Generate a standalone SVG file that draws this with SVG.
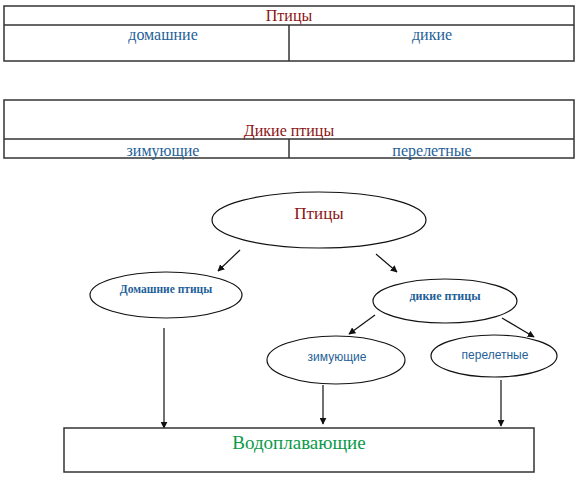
<svg xmlns="http://www.w3.org/2000/svg" width="580" height="477" viewBox="0 0 580 477">
<style>
.tb{fill:#fff;stroke:#333;stroke-width:1.5}
.el{fill:#fff;stroke:#111;stroke-width:1.2}
.red{fill:#8B1414}
.blue{fill:#1F5F99}
.green{fill:#0A9A4A}
.arr{stroke:#111;stroke-width:1.2;fill:none;marker-end:url(#ah)}
</style>
<defs>
<marker id="ah" viewBox="0 0 10 10" refX="9" refY="5" markerWidth="7" markerHeight="7" markerUnits="userSpaceOnUse" orient="auto">
<path d="M0,0 L10,5 L0,10 z" fill="#111"/>
</marker>
</defs>
<rect width="580" height="477" fill="#fff"/>
<g id="table1" font-family="Liberation Serif, serif" text-anchor="middle">
<rect class="tb" x="4" y="6" width="570" height="55"/>
<line class="tb" x1="4" y1="25" x2="574" y2="25"/>
<line class="tb" x1="289" y1="25" x2="289" y2="61"/>
<text class="red" x="289" y="21" font-size="16">Птицы</text>
<text class="blue" x="163" y="40" font-size="16">домашние</text>
<text class="blue" x="432" y="40" font-size="16">дикие</text>
</g>
<g id="table2" font-family="Liberation Serif, serif" text-anchor="middle">
<rect class="tb" x="4" y="100" width="570" height="58"/>
<line class="tb" x1="4" y1="139" x2="574" y2="139"/>
<line class="tb" x1="289" y1="139" x2="289" y2="158"/>
<text class="red" x="289" y="136" font-size="16">Дикие птицы</text>
<text class="blue" x="163" y="156" font-size="16">зимующие</text>
<text class="blue" x="432" y="156" font-size="16">перелетные</text>
</g>
<g id="connectors">
<line class="arr" x1="240" y1="250" x2="218" y2="271"/>
<line class="arr" x1="376" y1="254" x2="397" y2="272"/>
<line class="arr" x1="375" y1="315" x2="349" y2="334"/>
<line class="arr" x1="502" y1="318" x2="534" y2="337"/>
<line class="arr" x1="164" y1="328" x2="164" y2="428"/>
<line class="arr" x1="323" y1="385" x2="323" y2="424"/>
<line class="arr" x1="501" y1="380" x2="501" y2="426"/>
</g>
<g id="node-birds" font-family="Liberation Serif, serif" text-anchor="middle">
<ellipse class="el" cx="319" cy="220" rx="107" ry="28"/>
<text class="red" x="319" y="219" font-size="17">Птицы</text>
</g>
<g id="node-domestic" font-family="Liberation Serif, serif" text-anchor="middle">
<ellipse class="el" cx="166" cy="295" rx="76" ry="23"/>
<text class="blue" x="166" y="293" font-size="11.5" font-weight="bold">Домашние птицы</text>
</g>
<g id="node-wild" font-family="Liberation Serif, serif" text-anchor="middle">
<ellipse class="el" cx="445" cy="301" rx="72" ry="22"/>
<text class="blue" x="445" y="300" font-size="12" font-weight="bold">дикие птицы</text>
</g>
<g id="node-wintering" font-family="Liberation Sans, sans-serif" text-anchor="middle">
<ellipse class="el" cx="336" cy="360" rx="69" ry="24"/>
<text class="blue" x="337" y="361" font-size="12">зимующие</text>
</g>
<g id="node-migratory" font-family="Liberation Sans, sans-serif" text-anchor="middle">
<ellipse class="el" cx="494" cy="356" rx="63" ry="21"/>
<text class="blue" x="495" y="359" font-size="12">перелетные</text>
</g>
<g id="node-waterfowl" font-family="Liberation Serif, serif" text-anchor="middle">
<rect class="tb" x="64" y="428" width="470" height="44" stroke="#111"/>
<text class="green" x="299" y="449" font-size="19">Водоплавающие</text>
</g>
</svg>
